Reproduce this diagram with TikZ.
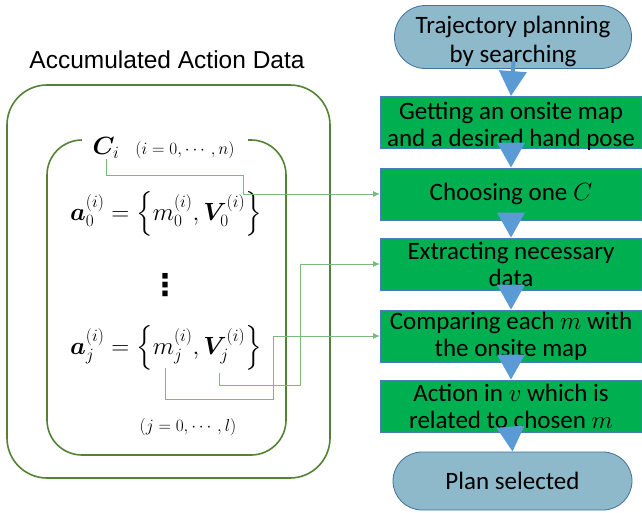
\documentclass[tikz,border=0pt]{standalone}
\usepackage{amsmath}
\usepackage{bm}
\usepackage{fontspec}
\setmainfont{Carlito}
\newfontfamily\arialf{Liberation Sans}
\newfontfamily\djv{DejaVu Sans}
\usetikzlibrary{arrows.meta,calc}
\definecolor{dkgreen}{HTML}{548235}
\definecolor{lgreen}{HTML}{7DB87D}
\definecolor{boxgreen}{HTML}{00B050}
\definecolor{boxedge}{HTML}{4A7EBB}
\definecolor{termfill}{HTML}{8DB9CA}
\definecolor{termedge}{HTML}{41719C}
\definecolor{arrowblue}{HTML}{5B9BD5}
\tikzset{
  frame/.style={draw=dkgreen, line width=1.6pt, inner sep=0pt},
  flowbox/.style={draw=boxedge, line width=0.8pt, fill=boxgreen, minimum width=261pt, minimum height=52pt, inner sep=0pt, align=center, font=\fontsize{25}{27}\selectfont},
  term/.style={draw=termedge, line width=0.8pt, fill=termfill, inner sep=0pt, align=center, font=\fontsize{25}{30}\selectfont},
  lowtext/.style={inner sep=0pt, align=center, yshift=-4pt},
  conn/.style={draw=lgreen, line width=1pt, -{Latex[length=7pt,width=6pt]}},
  flowarrow/.style={draw=arrowblue, line width=4pt, -{Triangle[length=25pt,width=27pt]}, shorten <=-8pt},
  mathtxt/.style={inner sep=0pt, font=\fontsize{23.5}{28}\selectfont},
  smallmath/.style={inner sep=0pt, font=\fontsize{18}{21}\selectfont}
}
\begin{document}
\begin{tikzpicture}[x=1pt,y=-1pt]
\path[use as bounding box, fill=white] (0,0) rectangle (642,512);

% left side
\node[font=\arialf\fontsize{24.5}{28}\selectfont] (title) at (167,60) {Accumulated Action Data};
\node[frame, rounded corners=40pt, minimum width=323pt, minimum height=393pt] (outer) at (168.5,281.5) {};
\node[frame, rounded corners=35pt, minimum width=239pt, minimum height=315pt] (inner) at (166.5,297.5) {};
\fill[white] (82,128) rectangle (248,168);
\node[mathtxt, font=\fontsize{23}{27}\selectfont] (cC) at (106,148) {$\bm{C}_i$};
\node[smallmath] (crange) at (185,150) {$(i=0,\cdots,n)$};
\node[mathtxt] (a0) at (166,214) {$\bm{a}_0^{(i)}=\left\{m_0^{(i)},\bm{V}_0^{(i)}\right\}$};
\node[inner sep=0pt, font=\djv\bfseries\fontsize{30}{34}\selectfont] (vdotsnode) at (165,285) {⋮};
\node[mathtxt] (aj) at (166,348) {$\bm{a}_j^{(i)}=\left\{m_j^{(i)},\bm{V}_j^{(i)}\right\}$};
\node[smallmath] (jrange) at (188,427) {$(j=0,\cdots,l)$};
\coordinate (mj) at (165,368);
\coordinate (vj) at (219,373);

% right side
\node[term, rounded corners=31pt, minimum width=237pt, minimum height=63pt,
      label={[lowtext, font=\fontsize{25}{29}\selectfont]center:Trajectory planning\\by searching}] (start) at (513,37) {};
\node[flowbox, label={[lowtext, font=\fontsize{25}{27}\selectfont]center:Getting an onsite map\\and a desired hand pose}] (b1) at (511,122.5) {};
\node[flowbox] (b2) at (511,194) {Choosing one $C$};
\node[flowbox] (b3) at (511,264) {Extracting necessary\\data};
\node[flowbox] (b4) at (511,336) {Comparing each $m$ with\\the onsite map};
\node[flowbox] (b5) at (511,406) {Action in $v$ which is\\related to chosen $m$};
\node[term, rounded corners=29pt, minimum width=239pt, minimum height=58pt] (stop) at (512.5,481) {Plan selected};

\draw[flowarrow] (start.south) -- (b1.north);
\draw[flowarrow] (b1.south) -- (b2.north);
\draw[flowarrow] (b2.south) -- (b3.north);
\draw[flowarrow] (b3.south) -- (b4.north);
\draw[flowarrow] (b4.south) -- (b5.north);
\draw[flowarrow] (b5.south) -- (stop.north);

% connectors
\draw[conn] (cC.south) |- (243,175) |- (b2.west);
\draw[conn] (vj) |- (300,385) |- (b3.west);
\draw[conn] (mj) |- (273,399) |- (b4.west);
\end{tikzpicture}
\end{document}
